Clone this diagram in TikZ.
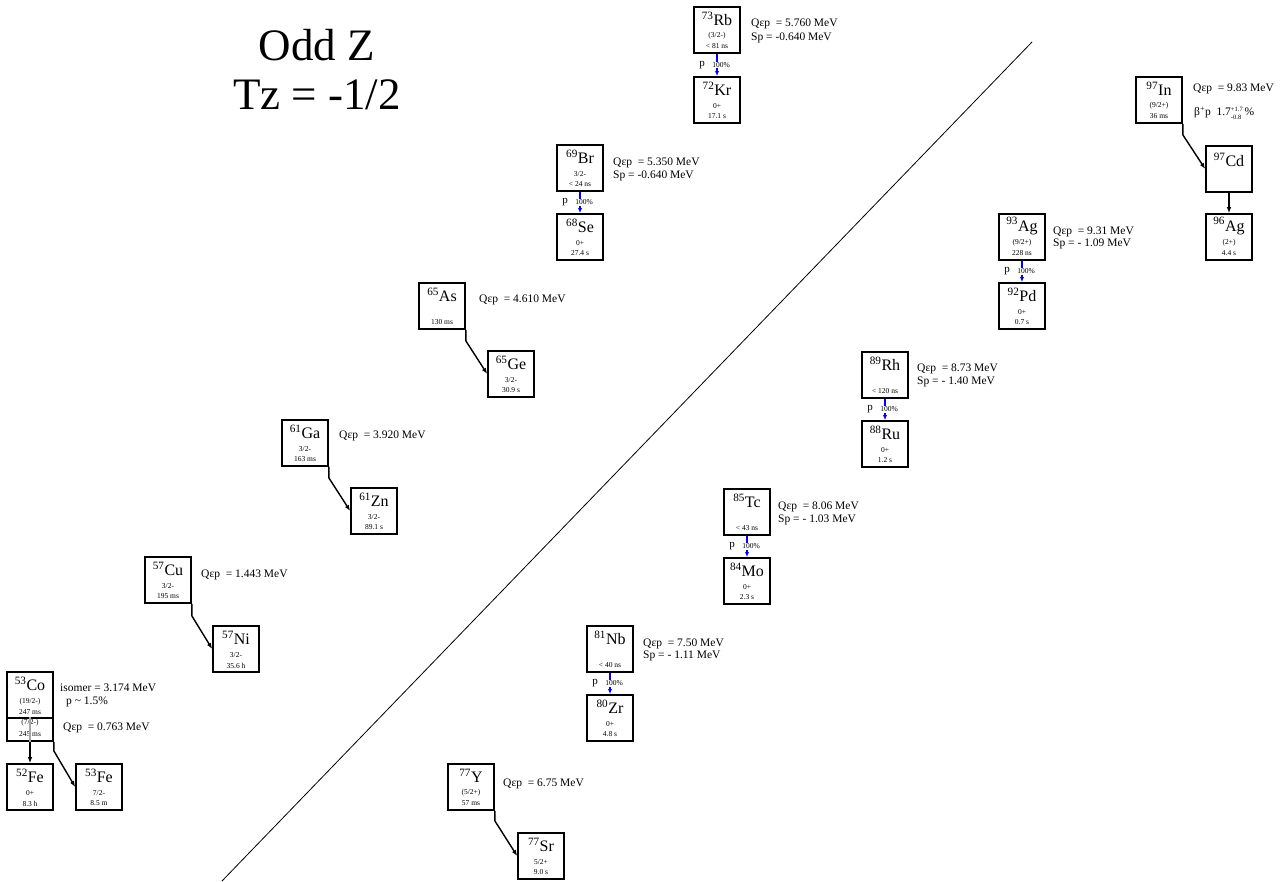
\documentclass[tikz,border=0pt]{standalone}
\usepackage{fontspec}
\setmainfont{Liberation Serif}
\usetikzlibrary{arrows.meta}
\newcommand\Nuc[7]{%
  \node[nucbox] (#1) at (#2,#3) {};
  \node[nuclab] (#1-l) at (#2,#3-11) {\textsuperscript{#4}#5};
  \if\relax\detokenize{#6}\relax\else\node[sm] (#1-s) at (#2,#3+6) {#6};\fi
  \if\relax\detokenize{#7}\relax\else\node[sm] (#1-h) at (#2,#3+16.5) {#7};\fi
}
\newcommand\PLab[3]{%
  \node[plab] (#1-p) at (#2-15,#3) {p};
  \node[pct] (#1-pc) at (#2+4,#3) {100\%};
}
\newcommand\tinyfs{\fontsize{6.5}{7}\selectfont}
\begin{document}
\begin{tikzpicture}[x=1pt,y=-1pt,
  nucbox/.style={draw, line width=1.6pt, minimum width=46pt, minimum height=46pt, inner sep=0pt},
  nuclab/.style={inner sep=0pt, font=\fontsize{16}{17}\selectfont},
  sm/.style={inner sep=0pt, font=\fontsize{7.5}{8}\selectfont},
  info/.style={inner sep=0pt, anchor=west, font=\fontsize{11.5}{13}\selectfont},
  title/.style={inner sep=0pt, font=\fontsize{45}{50}\selectfont},
  decay/.style={line width=1.4pt, -{Latex[length=6pt,width=4.5pt]}},
  pdecay/.style={blue, line width=1.6pt, -{Latex[length=5pt,width=4pt]}},
  plab/.style={inner sep=0pt, font=\fontsize{11}{12}\selectfont},
  pct/.style={inner sep=0.8pt, fill=white, font=\fontsize{7.5}{8}\selectfont},
]
\useasboundingbox (0,0) rectangle (1285,881);

% title
\node[title] (t1) at (317,45) {Odd Z};
\node[title] (t2) at (317,95) {Tz = -1/2};

% diagonal line
\coordinate (d1) at (222,881);
\coordinate (d2) at (1032,42);
\draw[line width=0.8pt] (d1) -- (d2);

% 53Co
\node[nucbox] (Co) at (30,695) {};
\node[nucbox, minimum height=23pt] (Co2) at (30,729.5) {};
\node[nuclab] (Co-l) at (30,684) {\textsuperscript{53}Co};
\node[sm] (Co-s) at (30,702) {(19/2-)};
\node[sm] (Co-h) at (30,712) {247 ms};
\node[sm] (Co2-s) at (30,723) {(7/2-)};
\node[sm] (Co2-h) at (30,734) {245 ms};
\node[info] (Co-i1) at (60,688) {isomer = 3.174 MeV};
\node[info] (Co-i2) at (66,702) {p \textasciitilde{} 1.5\%};
\node[info] (Co-q) at (63,728) {Qεp~~= 0.763 MeV};
\Nuc{Fe52}{30}{787}{52}{Fe}{0+}{8.3 h}
\Nuc{Fe53}{99}{787}{53}{Fe}{7/2-}{8.5 m}
\draw[gray!70, line width=1.2pt] (Co2.north) -- (Co2.south);
\draw[decay] (Co2.south) -- (Fe52.north);
\draw[decay] (Co2.south east) -- ++(0,9) -- (Fe53.west);

% 57Cu
\Nuc{Cu}{168}{580}{57}{Cu}{3/2-}{195 ms}
\Nuc{Ni}{236}{649}{57}{Ni}{3/2-}{35.6 h}
\node[info] (Cu-q) at (201,575) {Qεp~~= 1.443 MeV};
\draw[decay] (Cu.south east) -- ++(0,12) -- (Ni.west);

% 61Ga
\Nuc{Ga}{305}{443}{61}{Ga}{3/2-}{163 ms}
\Nuc{Zn}{374}{511}{61}{Zn}{3/2-}{89.1 s}
\node[info] (Ga-q) at (339,436) {Qεp~~= 3.920 MeV};
\draw[decay] (Ga.south east) -- ++(0,11) -- (Zn.west);

% 65As
\Nuc{As}{442}{306}{65}{As}{}{130 ms}
\Nuc{Ge}{511}{374}{65}{Ge}{3/2-}{30.9 s}
\node[info] (As-q) at (479,300) {Qεp~~= 4.610 MeV};
\draw[decay] (As.south east) -- ++(0,11) -- (Ge.west);

% 69Br
\Nuc{Br}{580}{168}{69}{Br}{3/2-}{< 24 ns}
\Nuc{Se}{580}{237}{68}{Se}{0+}{27.4 s}
\node[info] (Br-q) at (613,163) {Qεp~~= 5.350 MeV};
\node[info] (Br-sp) at (613,176) {Sp = -0.640 MeV};
\draw[pdecay] (Br.south) -- (Se.north);
\PLab{Br}{580}{202.5}

% 73Rb
\Nuc{Rb}{717}{30}{73}{Rb}{(3/2-)}{< 81 ns}
\Nuc{Kr}{717}{100}{72}{Kr}{0+}{17.1 s}
\node[info] (Rb-q) at (751,24) {Qεp~~= 5.760 MeV};
\node[info] (Rb-sp) at (751,38) {Sp = -0.640 MeV};
\draw[pdecay] (Rb.south) -- (Kr.north);
\PLab{Rb}{717}{65}

% 97In
\Nuc{In}{1159}{100}{97}{In}{(9/2+)}{36 ms}
\node[nucbox] (Cd) at (1229,169) {};
\node[nuclab] (Cd-l) at (1229,160) {\textsuperscript{97}Cd};
\Nuc{AgS}{1229}{237}{96}{Ag}{(2+)}{4.4 s}
\node[info] (In-q) at (1193,89) {Qεp~~= 9.83 MeV};
\node[info] (In-b) at (1194,113) {β\textsuperscript{+}p~~1.7\raisebox{-3.5pt}{\rlap{\tinyfs -0.8}}\raisebox{4pt}{\tinyfs +1.7}\,\%};
\draw[decay] (In.south east) -- ++(0,11) -- (Cd.west);
\draw[decay] (Cd.south) -- (AgS.north);

% 93Ag
\Nuc{Ag}{1022}{237}{93}{Ag}{(9/2+)}{228 ns}
\Nuc{Pd}{1022}{306}{92}{Pd}{0+}{0.7 s}
\node[info] (Ag-q) at (1053,232) {Qεp~~= 9.31 MeV};
\node[info] (Ag-sp) at (1053,244) {Sp = - 1.09 MeV};
\draw[pdecay] (Ag.south) -- (Pd.north);
\PLab{Ag}{1022}{271.5}

% 89Rh
\Nuc{Rh}{885}{375}{89}{Rh}{}{< 120 ns}
\Nuc{Ru}{885}{444}{88}{Ru}{0+}{1.2 s}
\node[info] (Rh-q) at (917,369) {Qεp~~= 8.73 MeV};
\node[info] (Rh-sp) at (917,382) {Sp = - 1.40 MeV};
\draw[pdecay] (Rh.south) -- (Ru.north);
\PLab{Rh}{885}{409.5}

% 85Tc
\Nuc{Tc}{747}{512}{85}{Tc}{}{< 43 ns}
\Nuc{Mo}{747}{581}{84}{Mo}{0+}{2.3 s}
\node[info] (Tc-q) at (778,507) {Qεp~~= 8.06 MeV};
\node[info] (Tc-sp) at (778,520) {Sp = - 1.03 MeV};
\draw[pdecay] (Tc.south) -- (Mo.north);
\PLab{Tc}{747}{546.5}

% 81Nb
\Nuc{Nb}{610}{649}{81}{Nb}{}{< 40 ns}
\Nuc{Zr}{610}{718}{80}{Zr}{0+}{4.8 s}
\node[info] (Nb-q) at (643,644) {Qεp~~= 7.50 MeV};
\node[info] (Nb-sp) at (643,656) {Sp = - 1.11 MeV};
\draw[pdecay] (Nb.south) -- (Zr.north);
\PLab{Nb}{610}{683.5}

% 77Y
\Nuc{Y}{471}{787}{77}{Y}{(5/2+)}{57 ms}
\Nuc{Sr}{541}{856}{77}{Sr}{5/2+}{9.0 s}
\node[info] (Y-q) at (503,784) {Qεp~~= 6.75 MeV};
\draw[decay] (Y.south east) -- ++(0,10) -- (Sr.west);

\end{tikzpicture}
\end{document}
